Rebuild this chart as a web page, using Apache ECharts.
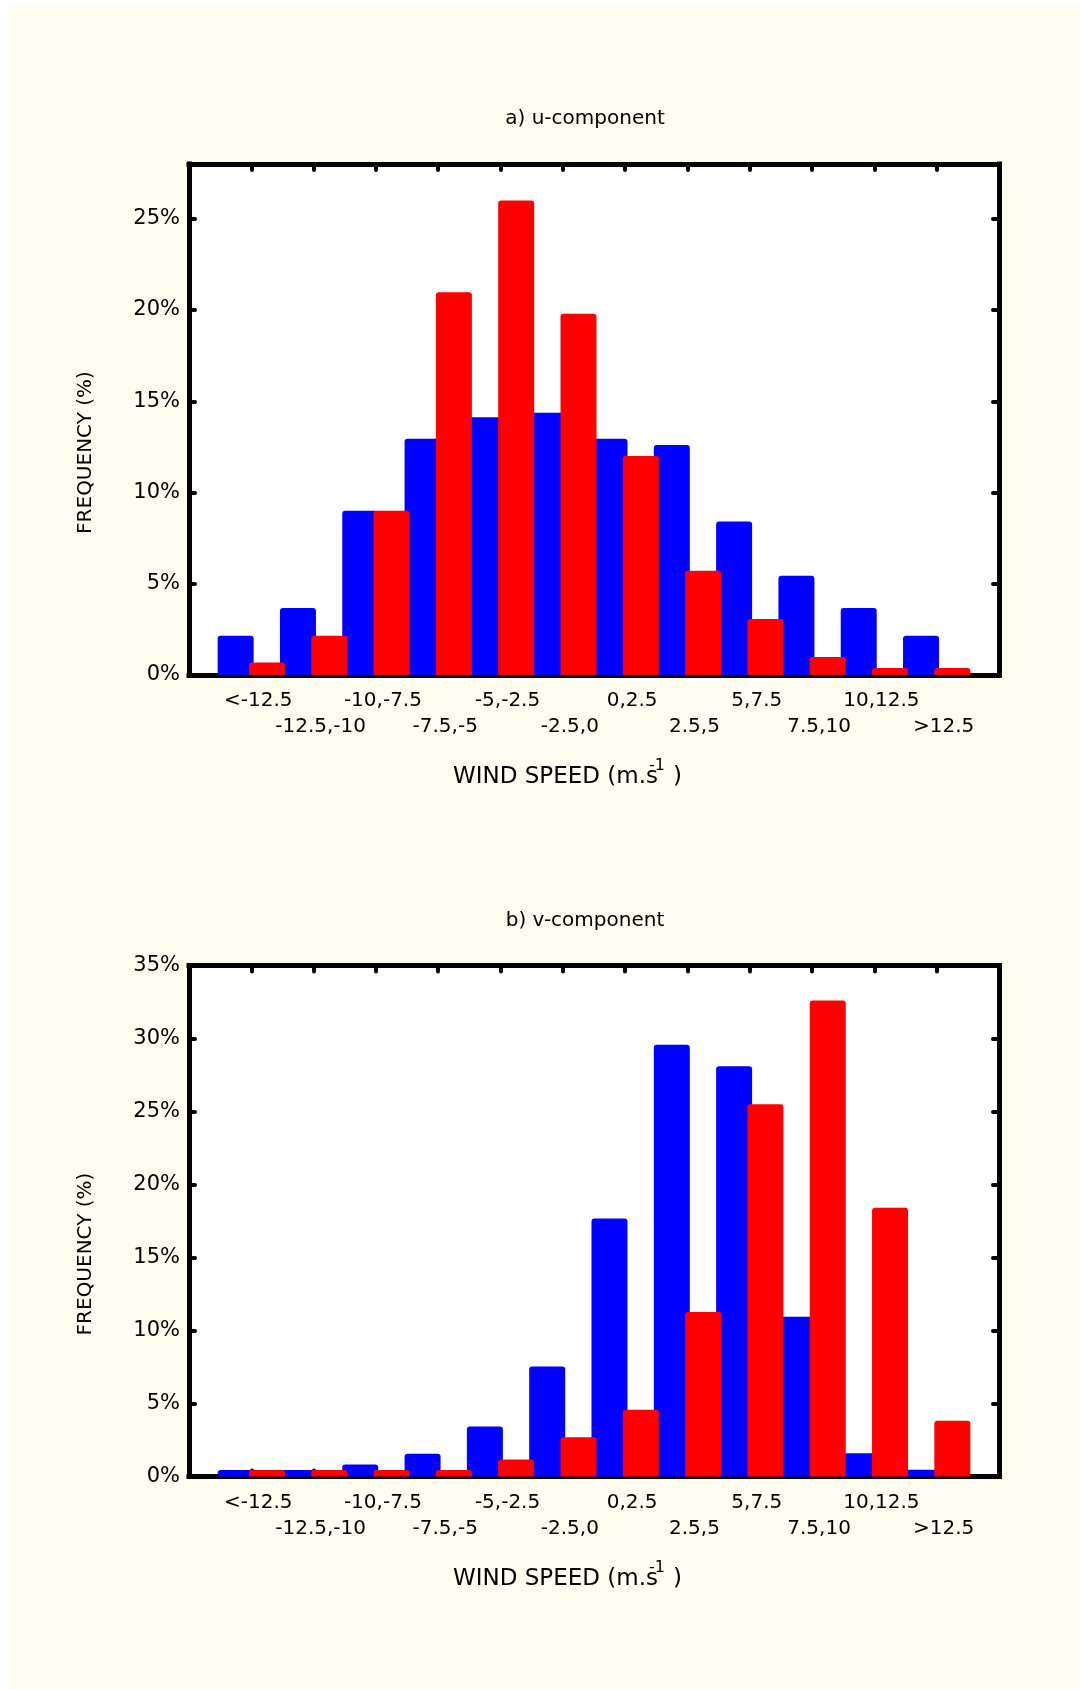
<!DOCTYPE html>
<html>
<head>
<meta charset="utf-8">
<script src="https://cdn.jsdelivr.net/npm/echarts@6/dist/echarts.min.js"></script>
<style>
  html, body { margin: 0; padding: 0; background: #ffffff; }
  #bg { position: absolute; left: 8px; top: 6px; right: 0; bottom: 0; background: #FFFDF0; }
  #chart { position: absolute; left: 0; top: 0; width: 1080px; height: 1689px; }
</style>
</head>
<body>
<div id="bg"></div>
<div id="chart"></div>
<script>
// ---- data ----
const categories = ['<-12.5', '-12.5,-10', '-10,-7.5', '-7.5,-5', '-5,-2.5', '-2.5,0',
                    '0,2.5', '2.5,5', '5,7.5', '7.5,10', '10,12.5', '>12.5'];
const uBlue = [2.15, 3.67, 9.0, 12.95, 14.12, 14.37, 12.95, 12.6, 8.41, 5.44, 3.67, 2.15];
const uRed  = [0.68, 2.15, 9.0, 20.97, 26.0, 19.79, 12.0, 5.71, 3.07, 0.98, 0.39, 0.39];
const vBlue = [0.44, 0.44, 0.83, 1.56, 3.43, 7.54, 17.67, 29.57, 28.1, 10.94, 1.59, 0.47];
const vRed  = [0.44, 0.44, 0.44, 0.44, 1.17, 2.69, 4.58, 11.26, 25.5, 32.6, 18.4, 3.82];
const uMax = 28, vMax = 35, yStep = 5;
const titles = ['a) u-component', 'b) v-component'];
const yName = 'FREQUENCY (%)';
const xNameMain = 'WIND SPEED (m.s', xNameSup = '-1', xNameEnd = ')';

// ---- build ----
const FONT = "'DejaVu Sans', Verdana, sans-serif";
const xData = [''].concat(categories, ['']);
const pad = arr => ['-'].concat(arr, ['-']);

const grids = [
  { left: 189, top: 164, width: 810, height: 511 },
  { left: 189, top: 965.5, width: 810, height: 511 }
];

const lineS = { color: '#000', width: 5, cap: 'square' };
const tickS = { color: '#000', width: 4, cap: 'round' };

function xAxisPair(gi) {
  const base = {
    type: 'category', gridIndex: gi, data: xData, boundaryGap: false,
    axisLine: { show: true, onZero: false, lineStyle: lineS },
    axisTick: { show: true, inside: true, length: 6, interval: (i) => i > 0 && i < xData.length - 1, lineStyle: tickS },
    splitLine: { show: false }
  };
  return [
    Object.assign({}, base, {
      position: 'bottom',
      axisLabel: {
        interval: 0, margin: 13, color: '#000', fontFamily: FONT, fontSize: 20, lineHeight: 26,
        padding: [0, 0, 0, 14],
        formatter: (v, i) => (i % 2 === 1 ? v : '\n' + v)
      }
    }),
    Object.assign({}, base, { position: 'top', axisLabel: { show: false } })
  ];
}

function yAxisPair(gi, max) {
  const base = {
    type: 'value', gridIndex: gi, min: 0, max: max, interval: yStep,
    axisLine: { show: true, onZero: false, lineStyle: lineS },
    axisTick: { show: true, inside: true, length: 6, lineStyle: tickS },
    splitLine: { show: false }
  };
  return [
    Object.assign({}, base, {
      position: 'left',
      axisLabel: {
        margin: 9, color: '#000', fontFamily: FONT, fontSize: 21,
        formatter: (v) => (v % yStep === 0 ? v + '%' : ''),
        showMaxLabel: max % yStep === 0
      }
    }),
    Object.assign({}, base, { position: 'right', axisLabel: { show: false } })
  ];
}

function barSeries(gi, data, color) {
  return {
    type: 'bar', xAxisIndex: gi * 2, yAxisIndex: gi * 2, data: pad(data),
    barWidth: 36, barGap: '-13%',
    itemStyle: { color: color, borderRadius: [3, 3, 0, 0] },
    emphasis: { disabled: true },
    animation: false
  };
}

const graphics = [];
[0, 1].forEach(gi => {
  const g = grids[gi];
  const bottom = g.top + g.height;
  graphics.push({
    type: 'text', x: 585, y: g.top - 45,
    style: { text: titles[gi], font: '20px ' + FONT, fill: '#000', align: 'center', verticalAlign: 'middle' }
  });
  graphics.push({
    type: 'text', x: 86, y: g.top + g.height / 2 + 33, rotation: Math.PI / 2,
    style: { text: yName, font: '20px ' + FONT, fill: '#000', align: 'center', verticalAlign: 'middle' }
  });
  graphics.push({
    type: 'text', x: 453, y: bottom + 102.5,
    style: { text: xNameMain, font: '23px ' + FONT, fill: '#000', align: 'left', verticalAlign: 'middle' }
  });
  graphics.push({
    type: 'text', x: 649, y: bottom + 91,
    style: { text: xNameSup, font: '16px ' + FONT, fill: '#000', align: 'left', verticalAlign: 'middle' }
  });
  graphics.push({
    type: 'text', x: 673, y: bottom + 102.5,
    style: { text: xNameEnd, font: '23px ' + FONT, fill: '#000', align: 'left', verticalAlign: 'middle' }
  });
});

const option = {
  backgroundColor: 'transparent',
  animation: false,
  grid: grids.map(g => Object.assign({ show: true, backgroundColor: '#ffffff', borderWidth: 0 }, g)),
  xAxis: xAxisPair(0).concat(xAxisPair(1)),
  yAxis: yAxisPair(0, uMax).concat(yAxisPair(1, vMax)),
  series: [
    barSeries(0, uBlue, '#0000FF'),
    barSeries(0, uRed, '#FF0000'),
    barSeries(1, vBlue, '#0000FF'),
    barSeries(1, vRed, '#FF0000')
  ],
  graphic: graphics
};

const chart = echarts.init(document.getElementById('chart'), null, { renderer: 'canvas' });
chart.setOption(option);
</script>
</body>
</html>
